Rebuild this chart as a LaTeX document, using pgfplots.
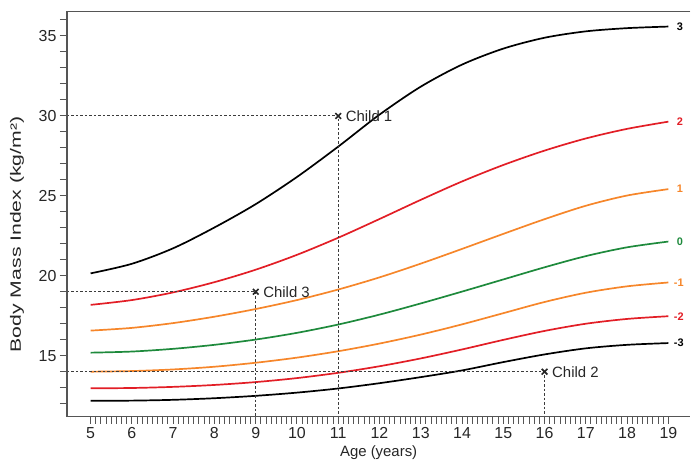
\documentclass[border=0pt]{standalone}
\usepackage{graphicx}
\usepackage{fontspec}
\setmainfont{Liberation Sans}
\usepackage{pgfplots}
\usepackage{pgfplotstable}
\pgfplotsset{compat=1.18}
\definecolor{cred}{RGB}{226,30,38}
\definecolor{corange}{RGB}{246,134,42}
\definecolor{cgreen}{RGB}{30,138,60}
\definecolor{axgray}{RGB}{85,85,85}
\definecolor{dashgray}{RGB}{60,60,60}

\pgfplotstableread{
age m3 m2 m1 z0 p1 p2 p3
5 12.18 12.96 14.00 15.19 16.57 18.18 20.15
6 12.19 12.98 14.04 15.26 16.74 18.48 20.75
7 12.24 13.05 14.14 15.43 17.04 18.96 21.72
8 12.34 13.17 14.31 15.68 17.44 19.60 23.02
9 12.49 13.35 14.56 16.01 17.92 20.38 24.48
10 12.69 13.60 14.88 16.43 18.48 21.31 26.18
11 12.95 13.93 15.28 16.95 19.14 22.38 28.08
12 13.28 14.34 15.76 17.57 19.90 23.55 30.08
13 13.66 14.83 16.32 18.27 20.76 24.75 31.83
14 14.08 15.39 16.96 19.01 21.68 25.90 33.21
15 14.60 15.99 17.66 19.77 22.62 26.93 34.21
16 15.08 16.55 18.36 20.53 23.54 27.83 34.89
17 15.46 17.00 18.94 21.23 24.38 28.59 35.29
18 15.68 17.30 19.34 21.78 25.02 29.19 35.49
19 15.79 17.47 19.58 22.14 25.42 29.64 35.59
}\bmi

\begin{document}
\begin{tikzpicture}
\begin{axis}[
  scale only axis, width=624bp, height=405.3bp,
  xmin=4.426, xmax=19.533, ymin=11.19, ymax=36.52,
  axis line style={draw=none},
  tick align=outside, xtick pos=bottom, ytick pos=left,
  xtick={5,...,19}, minor xtick={5,5.125,...,19},
  ytick={15,20,25,30,35}, minor ytick={12,...,36},
  major tick length=7bp, minor tick length=7bp,
  every tick/.style={axgray, line width=1bp},
  tick label style={font=\fontsize{16}{18}\selectfont, text=black!85},
  /pgf/number format/assume math mode=true,
  xlabel={Age (years)},
  ylabel={\scalebox{1.42}[1]{Body Mass Index (kg/m²)}},
  label style={font=\fontsize{15}{17}\selectfont, text=black!85},
  xlabel style={at={(axis description cs:0.5,-0.089)}, anchor=center},
  ylabel style={at={(axis description cs:-0.080,0.45)}, anchor=center},
  clip=false,
]
\addplot[black, line width=1.7bp, smooth] table[x=age,y=m3]{\bmi};
\addplot[cred, line width=1.7bp, smooth] table[x=age,y=m2]{\bmi};
\addplot[corange, line width=1.7bp, smooth] table[x=age,y=m1]{\bmi};
\addplot[cgreen, line width=1.7bp, smooth] table[x=age,y=z0]{\bmi};
\addplot[corange, line width=1.7bp, smooth] table[x=age,y=p1]{\bmi};
\addplot[cred, line width=1.7bp, smooth] table[x=age,y=p2]{\bmi};
\addplot[black, line width=1.7bp, smooth] table[x=age,y=p3]{\bmi};

% child reference lines
\addplot[dashgray, line width=0.9bp, dash pattern=on 2.5bp off 2bp] coordinates {(4.426,30) (11,30) (11,11.19)};
\addplot[dashgray, line width=0.9bp, dash pattern=on 2.5bp off 2bp] coordinates {(4.426,19) (9,19) (9,11.19)};
\addplot[dashgray, line width=0.9bp, dash pattern=on 2.5bp off 2bp] coordinates {(4.426,14) (16,14) (16,11.19)};
\addplot[black!85, mark=x, mark size=4bp, mark options={line width=1.6bp, solid}, only marks] coordinates {(11,30) (9,19) (16,14)};

\node[anchor=west, inner sep=0pt, font=\fontsize{15}{17}\selectfont, text=black!85] at (axis cs:11.18,30) {Child 1};
\node[anchor=west, inner sep=0pt, font=\fontsize{15}{17}\selectfont, text=black!85] at (axis cs:9.18,19) {Child 3};
\node[anchor=west, inner sep=0pt, font=\fontsize{15}{17}\selectfont, text=black!85] at (axis cs:16.18,14) {Child 2};

\node[anchor=west, inner sep=0pt, font=\fontsize{11}{12}\selectfont\bfseries, text=black] at (axis cs:19.2,35.59) {3};
\node[anchor=west, inner sep=0pt, font=\fontsize{11}{12}\selectfont\bfseries, text=cred] at (axis cs:19.2,29.64) {2};
\node[anchor=west, inner sep=0pt, font=\fontsize{11}{12}\selectfont\bfseries, text=corange] at (axis cs:19.2,25.42) {1};
\node[anchor=west, inner sep=0pt, font=\fontsize{11}{12}\selectfont\bfseries, text=cgreen] at (axis cs:19.2,22.14) {0};
\node[anchor=west, inner sep=0pt, font=\fontsize{11}{12}\selectfont\bfseries, text=corange] at (axis cs:19.13,19.58) {-1};
\node[anchor=west, inner sep=0pt, font=\fontsize{11}{12}\selectfont\bfseries, text=cred] at (axis cs:19.13,17.47) {-2};
\node[anchor=west, inner sep=0pt, font=\fontsize{11}{12}\selectfont\bfseries, text=black] at (axis cs:19.13,15.79) {-3};

\draw[axgray, line width=1.3bp] (rel axis cs:1,1) -- (rel axis cs:0,1) -- (rel axis cs:0,0) -- (rel axis cs:1,0);
\coordinate (bl) at (rel axis cs:0,0);
\coordinate (tr) at (rel axis cs:1,1);
\end{axis}
\path ([xshift=-67bp,yshift=-47bp]bl) rectangle ([yshift=11.7bp]tr);
\end{tikzpicture}
\end{document}
